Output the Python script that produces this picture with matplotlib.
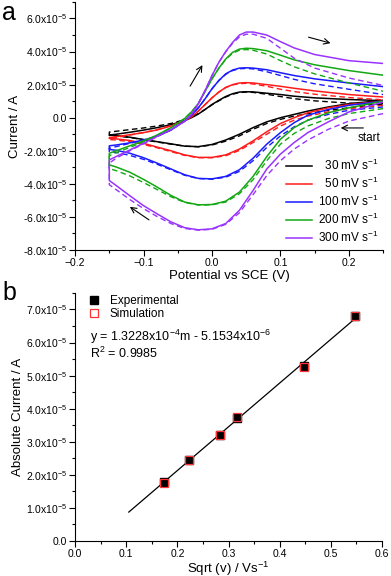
import matplotlib

matplotlib.use("Agg")

import matplotlib.pyplot as plt  # noqa: E402
import numpy as np  # noqa: E402
from matplotlib.ticker import FuncFormatter, MultipleLocator  # noqa: E402

plt.rcParams["font.family"] = ["Liberation Sans", "DejaVu Sans"]
plt.rcParams["mathtext.default"] = "regular"

# ---- panel a: cyclic voltammograms (current in units of 1e-5 A) ----
rates = ["30", "50", "100", "200", "300"]
colors = ["#000000", "#ff1a1a", "#1a1aff", "#13a813", "#9933ff"]

# cathodic sweep, starting at +0.25 V going negative
e_fwd = [0.25, 0.20, 0.17, 0.14, 0.12, 0.10, 0.08, 0.06, 0.04, 0.02, 0.00,
         -0.02, -0.04, -0.06, -0.08, -0.10, -0.12, -0.14, -0.15]
# anodic (return) sweep
e_rev = [-0.15, -0.14, -0.12, -0.10, -0.08, -0.06, -0.04, -0.03, -0.02, -0.01,
         0.00, 0.01, 0.02, 0.03, 0.04, 0.05, 0.06, 0.08, 0.10, 0.12, 0.15,
         0.20, 0.25]

exp_fwd = {
    "30": [1.05, 0.85, 0.65, 0.40, 0.20, 0.00, -0.25, -0.60, -1.00, -1.35, -1.62,
           -1.75, -1.72, -1.58, -1.45, -1.32, -1.18, -1.08, -1.05],
    "50": [1.00, 0.80, 0.60, 0.30, 0.00, -0.35, -0.85, -1.40, -1.90, -2.25, -2.40,
           -2.40, -2.25, -2.00, -1.78, -1.55, -1.38, -1.28, -1.25],
    "100": [1.00, 0.75, 0.50, 0.15, -0.30, -0.90, -1.60, -2.45, -3.15, -3.55, -3.70,
            -3.67, -3.45, -3.10, -2.75, -2.42, -2.15, -1.97, -1.92],
    "200": [1.00, 0.60, 0.30, -0.15, -0.60, -1.30, -2.35, -3.55, -4.50, -5.05, -5.25,
            -5.27, -5.10, -4.70, -4.20, -3.73, -3.30, -2.98, -2.85],
    "300": [0.95, 0.35, -0.25, -0.90, -1.50, -2.20, -3.10, -4.40, -5.60, -6.40, -6.72,
            -6.78, -6.65, -6.30, -5.82, -5.32, -4.72, -4.10, -3.80],
}
exp_rev = {
    "30": [-1.05, -1.00, -0.88, -0.75, -0.60, -0.42, -0.18, 0.00, 0.22, 0.50, 0.80,
           1.05, 1.28, 1.45, 1.55, 1.57, 1.56, 1.48, 1.40, 1.30, 1.20, 1.10, 1.03],
    "50": [-1.20, -1.15, -1.03, -0.90, -0.74, -0.50, -0.20, 0.05, 0.40, 0.80, 1.20,
           1.55, 1.83, 2.00, 2.10, 2.12, 2.10, 2.00, 1.90, 1.78, 1.62, 1.40, 1.25],
    "100": [-1.70, -1.65, -1.52, -1.35, -1.12, -0.75, -0.20, 0.15, 0.60, 1.15, 1.75,
            2.25, 2.65, 2.88, 3.00, 3.02, 3.00, 2.90, 2.72, 2.55, 2.35, 2.10, 1.88],
    "200": [-2.15, -2.00, -1.70, -1.40, -1.05, -0.60, -0.05, 0.35, 0.85, 1.60, 2.35,
            3.00, 3.55, 3.95, 4.15, 4.20, 4.18, 4.05, 3.78, 3.50, 3.20, 2.85, 2.57],
    "300": [-2.55, -2.35, -1.95, -1.55, -1.12, -0.72, -0.22, 0.20, 0.85, 1.65, 2.55,
            3.35, 4.00, 4.55, 5.00, 5.18, 5.18, 5.00, 4.60, 4.22, 3.82, 3.45, 3.28],
}
sim_fwd = {
    "30": [0.85, 0.60, 0.45, 0.25, 0.10, -0.10, -0.35, -0.70, -1.10, -1.42, -1.65,
           -1.76, -1.72, -1.60, -1.47, -1.33, -1.20, -1.10, -1.07],
    "50": [0.75, 0.55, 0.35, 0.10, -0.15, -0.50, -1.00, -1.50, -1.98, -2.30, -2.42,
           -2.42, -2.28, -2.05, -1.82, -1.62, -1.45, -1.35, -1.32],
    "100": [0.65, 0.45, 0.20, -0.15, -0.55, -1.10, -1.80, -2.60, -3.25, -3.60, -3.72,
            -3.68, -3.48, -3.15, -2.82, -2.52, -2.28, -2.10, -2.05],
    "200": [0.55, 0.25, -0.05, -0.50, -0.95, -1.60, -2.60, -3.75, -4.60, -5.10, -5.27,
            -5.28, -5.12, -4.78, -4.35, -3.92, -3.52, -3.20, -3.08],
    "300": [0.25, -0.20, -0.70, -1.35, -1.90, -2.60, -3.50, -4.65, -5.75, -6.45, -6.75,
            -6.80, -6.70, -6.40, -5.98, -5.50, -4.95, -4.35, -4.05],
}
sim_rev = {
    "30": [-0.87, -0.82, -0.72, -0.62, -0.50, -0.35, -0.12, 0.05, 0.25, 0.50, 0.78,
           1.02, 1.25, 1.42, 1.52, 1.55, 1.53, 1.42, 1.28, 1.15, 1.02, 0.88, 0.78],
    "50": [-1.30, -1.20, -1.05, -0.90, -0.72, -0.48, -0.18, 0.07, 0.40, 0.80, 1.20,
           1.55, 1.82, 1.98, 2.06, 2.08, 2.04, 1.90, 1.72, 1.58, 1.42, 1.22, 1.08],
    "100": [-1.85, -1.75, -1.55, -1.35, -1.12, -0.75, -0.20, 0.15, 0.60, 1.15, 1.75,
            2.25, 2.62, 2.85, 2.96, 2.98, 2.95, 2.78, 2.55, 2.32, 2.05, 1.72, 1.40],
    "200": [-2.30, -2.12, -1.80, -1.45, -1.05, -0.60, -0.05, 0.35, 0.85, 1.60, 2.35,
            3.00, 3.52, 3.90, 4.08, 4.12, 4.08, 3.85, 3.45, 3.08, 2.65, 2.10, 1.60],
    "300": [-2.75, -2.45, -2.00, -1.58, -1.14, -0.72, -0.22, 0.20, 0.85, 1.65, 2.55,
            3.35, 3.98, 4.50, 4.88, 5.05, 5.05, 4.80, 4.20, 3.60, 3.00, 2.40, 1.95],
}

# ---- panel b: peak current vs sqrt(scan rate) ----
sqrt_v = [0.1732, 0.2236, 0.2828, 0.3162, 0.4472, 0.5477]
i_exp = [1.79e-5, 2.45e-5, 3.20e-5, 3.71e-5, 5.29e-5, 6.80e-5]
i_sim = [1.76e-5, 2.45e-5, 3.19e-5, 3.74e-5, 5.27e-5, 6.80e-5]
fit_slope = 1.3228e-4
fit_icpt = -5.1534e-6
fit_x = [0.105, 0.548]


def sci_fmt(v, _pos):
    if abs(v) < 1e-12:
        return "0.0"
    exp = int(np.floor(np.log10(abs(v))))
    mant = v / 10**exp
    return f"{mant:.1f}x10$^{{{exp}}}$"


def style_axes(ax):
    for side in ("top", "right"):
        ax.spines[side].set_visible(False)
    ax.tick_params(which="major", direction="out", length=4, width=0.8,
                   labelsize=7.5, pad=1.5)
    ax.tick_params(which="minor", direction="out", length=2, width=0.8)
    ax.yaxis.set_major_formatter(FuncFormatter(sci_fmt))


fig = plt.figure(figsize=(3.91, 5.76), dpi=100)
ax_a = fig.add_axes([0.192, 0.566, 0.788, 0.4306])
ax_b = fig.add_axes([0.192, 0.0608, 0.785, 0.4306])

for rate, col in zip(rates, colors):
    e_loop = e_fwd + e_rev
    i_e = np.array(exp_fwd[rate] + exp_rev[rate]) * 1e-5
    i_s = np.array(sim_fwd[rate] + sim_rev[rate]) * 1e-5
    ax_a.plot(e_loop, i_s, color=col, lw=1.0, ls=(0, (4, 2.5)))
    ax_a.plot(e_loop, i_e, color=col, lw=1.1)

ax_a.set_xlim(-0.2, 0.25)
ax_a.set_ylim(-8e-5, 7e-5)
ax_a.xaxis.set_major_locator(MultipleLocator(0.1))
ax_a.xaxis.set_minor_locator(MultipleLocator(0.05))
ax_a.yaxis.set_major_locator(MultipleLocator(2e-5))
ax_a.yaxis.set_minor_locator(MultipleLocator(1e-5))
style_axes(ax_a)
ax_a.set_xlabel("Potential vs SCE (V)", fontsize=9.5, labelpad=2)
ax_a.set_ylabel("Current / A", fontsize=9.5, labelpad=1.5)

labels = ["  30 mV s$^{-1}$", "  50 mV s$^{-1}$", "100 mV s$^{-1}$",
          "200 mV s$^{-1}$", "300 mV s$^{-1}$"]
handles = ax_a.get_lines()[1::2]
ax_a.legend(handles, labels, loc="lower right", bbox_to_anchor=(1.01, -0.01),
            frameon=False, fontsize=8.5, handlelength=2.2, handletextpad=0.5,
            labelspacing=0.25, borderaxespad=0.2)

arrow = dict(arrowstyle="->", color="black", lw=0.8, shrinkA=0, shrinkB=0)
ax_a.annotate("", xy=(0.173, 4.51e-5), xytext=(0.141, 4.87e-5), arrowprops=arrow)
ax_a.annotate("", xy=(-0.014, 3.18e-5), xytext=(-0.032, 1.91e-5), arrowprops=arrow)
ax_a.annotate("", xy=(-0.120, -5.39e-5), xytext=(-0.092, -6.18e-5), arrowprops=arrow)
ax_a.annotate("", xy=(0.188, -0.62e-5), xytext=(0.221, -0.62e-5), arrowprops=arrow)
ax_a.text(0.229, -1.23e-5, "start", fontsize=8.5, ha="center", va="center")

# panel b
ax_b.plot(fit_x, [fit_slope * x + fit_icpt for x in fit_x], color="black", lw=0.9)
ax_b.plot(sqrt_v, i_exp, ls="none", marker="s", ms=5.5, color="black",
          label="Experimental")
ax_b.plot(sqrt_v, i_sim, ls="none", marker="s", ms=6, mfc="none", mec="#ff3333",
          mew=0.9, label="Simulation")
ax_b.set_xlim(0.0, 0.6)
ax_b.set_ylim(0.0, 7.5e-5)
ax_b.xaxis.set_major_locator(MultipleLocator(0.1))
ax_b.xaxis.set_minor_locator(MultipleLocator(0.05))
ax_b.yaxis.set_major_locator(MultipleLocator(1e-5))
ax_b.yaxis.set_minor_locator(MultipleLocator(0.5e-5))
style_axes(ax_b)
ax_b.set_xlabel("Sqrt (v) / Vs$^{-1}$", fontsize=9.5, labelpad=0.5)
ax_b.set_ylabel("Absolute Current / A", fontsize=9.5, labelpad=1.5)
ax_b.legend(loc="upper left", bbox_to_anchor=(0.02, 1.02), frameon=False,
            fontsize=8.5, handlelength=1.0, handletextpad=0.8, labelspacing=0.1,
            borderaxespad=0.2)
ax_b.text(0.03, 6.45e-5,
          "y = 1.3228x10$^{-4}$m - 5.1534x10$^{-6}$\nR$^{2}$ = 0.9985",
          fontsize=9, va="top", linespacing=1.0)

fig.text(0.005, 0.999, "a", fontsize=18, va="top", ha="left")
fig.text(0.005, 0.512, "b", fontsize=18, va="top", ha="left")

fig.savefig("out.png", dpi=100)
